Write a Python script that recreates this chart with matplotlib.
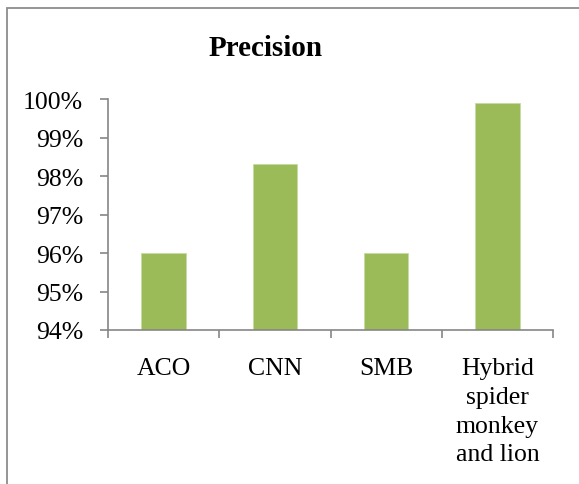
import matplotlib
matplotlib.use("Agg")
import matplotlib.pyplot as plt
from matplotlib.patches import Rectangle
from matplotlib.ticker import FuncFormatter

categories = ["ACO", "CNN", "SMB", "Hybrid\nspider\nmonkey\nand lion"]
precision = [96.0, 98.3, 96.0, 99.9]
yticks = [94, 95, 96, 97, 98, 99, 100]

W, H = 579, 485
fig = plt.figure(figsize=(W / 100, H / 100), dpi=100)
plt.rcParams['font.family'] = ['Liberation Serif', 'DejaVu Serif']

# outer chart border (right/bottom run off the image)
fig.patches.append(Rectangle((7 / W, -0.1), 1.2, (H - 9) / H + 0.1,
                             transform=fig.transFigure, fill=False,
                             edgecolor='#8c8c8c', linewidth=1.3))

ax = fig.add_axes([108 / W, 1 - 331 / H, (553 - 108) / W, (331 - 100) / H])
x = list(range(len(categories)))
ax.bar(x, precision, width=0.4, color='#9BBB59', edgecolor='#c5dba0',
       linewidth=0.6, bottom=0)
ax.set_xlim(-0.5, len(categories) - 0.5)
ax.set_ylim(94, 100)
ax.set_yticks(yticks)
ax.yaxis.set_major_formatter(FuncFormatter(lambda v, p: f"{v:.0f}%"))
ax.set_xticks([i - 0.5 for i in range(len(categories) + 1)], minor=False)
ax.set_xticklabels([])
ax.set_xticks(x, minor=True)
ax.set_xticklabels(categories, minor=True, fontsize=18.5, linespacing=1.4)
ax.tick_params(axis='x', which='minor', length=0, pad=19.5)
ax.tick_params(axis='x', which='major', length=6, color='#868686', width=1.2)
ax.tick_params(axis='y', length=6, color='#868686', width=1.2, labelsize=18.5, pad=12)
for lbl in ax.get_xticklabels(minor=True):
    lbl.set_verticalalignment('top')
for s in ['top', 'right']:
    ax.spines[s].set_visible(False)
for s in ['left', 'bottom']:
    ax.spines[s].set_color('#868686')
    ax.spines[s].set_linewidth(1.2)

fig.text(266 / W, 1 - 48 / H, "Precision", ha='center', va='center',
         fontsize=21, fontweight='bold')

fig.savefig("out.png", dpi=100)
